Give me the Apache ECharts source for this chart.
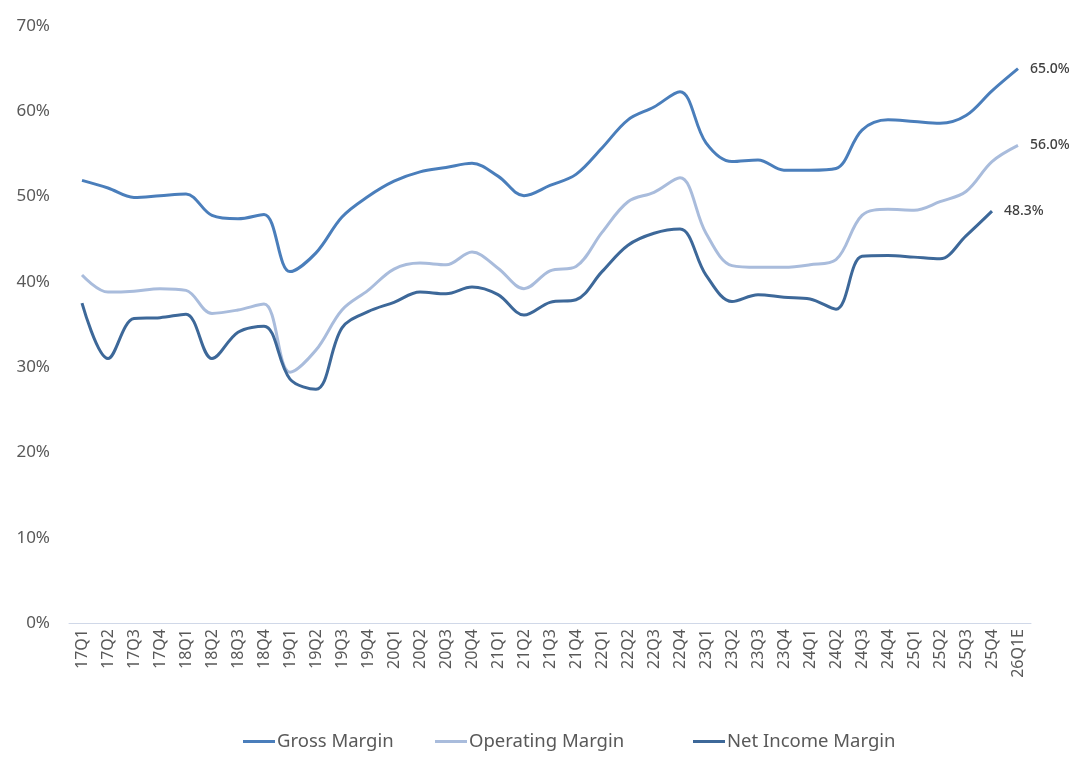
<!DOCTYPE html>
<html>
<head>
<meta charset="utf-8">
<script src="https://cdn.jsdelivr.net/npm/echarts@6/dist/echarts.min.js"></script>
<style>
  html, body { margin: 0; padding: 0; background: #fff; }
  #chart { width: 1080px; height: 769px; }
</style>
</head>
<body>
<div id="chart"></div>
<script>
var quarters = [
  '17Q1', '17Q2', '17Q3', '17Q4', '18Q1', '18Q2', '18Q3', '18Q4',
  '19Q1', '19Q2', '19Q3', '19Q4', '20Q1', '20Q2', '20Q3', '20Q4',
  '21Q1', '21Q2', '21Q3', '21Q4', '22Q1', '22Q2', '22Q3', '22Q4',
  '23Q1', '23Q2', '23Q3', '23Q4', '24Q1', '24Q2', '24Q3', '24Q4',
  '25Q1', '25Q2', '25Q3', '25Q4', '26Q1E'
]
var gross_margin = [
  51.9, 51.0, 49.9, 50.1, 50.3, 47.8, 47.4, 47.9,
  41.2, 43.4, 47.6, 50.0, 51.8, 52.9, 53.4, 53.9,
  52.4, 50.1, 51.3, 52.6, 55.7, 59.0, 60.5, 62.3,
  56.3, 54.1, 54.3, 53.1, 53.1, 53.3, 57.8, 59.0,
  58.8, 58.6, 59.5, 62.4, 65.0
]
var operating_margin = [
  40.8, 38.8, 38.9, 39.2, 39.0, 36.3, 36.7, 37.4,
  29.4, 32.0, 36.7, 39.0, 41.5, 42.2, 42.0, 43.5,
  41.6, 39.2, 41.3, 41.8, 45.8, 49.4, 50.5, 52.2,
  45.7, 41.9, 41.7, 41.7, 42.0, 42.6, 47.8, 48.5,
  48.4, 49.4, 50.6, 54.1, 56.0
]
var net_income_margin = [
  37.5, 31.0, 35.7, 35.8, 36.2, 31.0, 34.1, 34.8,
  28.6, 27.4, 34.6, 36.5, 37.6, 38.8, 38.6, 39.4,
  38.5, 36.1, 37.6, 37.9, 41.2, 44.3, 45.7, 46.2,
  40.8, 37.7, 38.5, 38.2, 38.0, 36.8, 43.0, 43.1,
  42.9, 42.7, 45.4, 48.3, null
]
var y_ticks = [0, 10, 20, 30, 40, 50, 60, 70]

var font = 'Noto Sans'
var chart = echarts.init(document.getElementById('chart'))

var end_label = {
  show: true,
  distance: 12,
  color: '#404040',
  fontFamily: font,
  fontSize: 14,
  fontWeight: 500,
  formatter: function(p) {
    return Number(p.value).toFixed(1) + '%'
  }
}

function legendAt(left, name) {
  return {
    left: left,
    top: 732,
    padding: 0,
    itemWidth: 32,
    itemHeight: 3,
    icon: 'rect',
    textStyle: { color: '#595959', fontSize: 18.5, fontFamily: font, padding: [0, 0, 0, -3] },
    data: [name]
  }
}

chart.setOption({
  animation: false,
  textStyle: { fontFamily: font },
  grid: {
    left: 69,
    right: 49,
    top: 26,
    bottom: 146
  },
  legend: [
    legendAt(243, 'Gross Margin'),
    legendAt(435, 'Operating Margin'),
    legendAt(693, 'Net Income Margin')
  ],
  xAxis: {
    type: 'category',
    data: quarters,
    boundaryGap: true,
    axisLine: { lineStyle: { color: '#d0d8e8', width: 1 } },
    axisTick: { show: false },
    axisLabel: {
      rotate: 90,
      interval: 0,
      margin: 6,
      color: '#595959',
      fontSize: 16,
      fontFamily: font
    }
  },
  yAxis: {
    type: 'value',
    min: y_ticks[0],
    max: y_ticks[y_ticks.length - 1],
    interval: 10,
    splitLine: { show: false },
    axisLine: { show: false },
    axisTick: { show: false },
    axisLabel: {
      margin: 19,
      color: '#595959',
      fontSize: 17,
      fontFamily: font,
      formatter: '{value}%'
    }
  },
  series: [
    {
      name: 'Gross Margin',
      type: 'line',
      smooth: 0.35,
      symbol: 'none',
      data: gross_margin,
      color: '#4a7ebb',
      lineStyle: { width: 3, color: '#4a7ebb' },
      endLabel: end_label
    },
    {
      name: 'Operating Margin',
      type: 'line',
      smooth: 0.35,
      symbol: 'none',
      data: operating_margin,
      color: '#a9bcdc',
      lineStyle: { width: 3, color: '#a9bcdc' },
      endLabel: end_label
    },
    {
      name: 'Net Income Margin',
      type: 'line',
      smooth: 0.35,
      symbol: 'none',
      data: net_income_margin,
      color: '#3d6899',
      lineStyle: { width: 3, color: '#3d6899' },
      endLabel: end_label
    }
  ]
})
</script>
</body>
</html>
